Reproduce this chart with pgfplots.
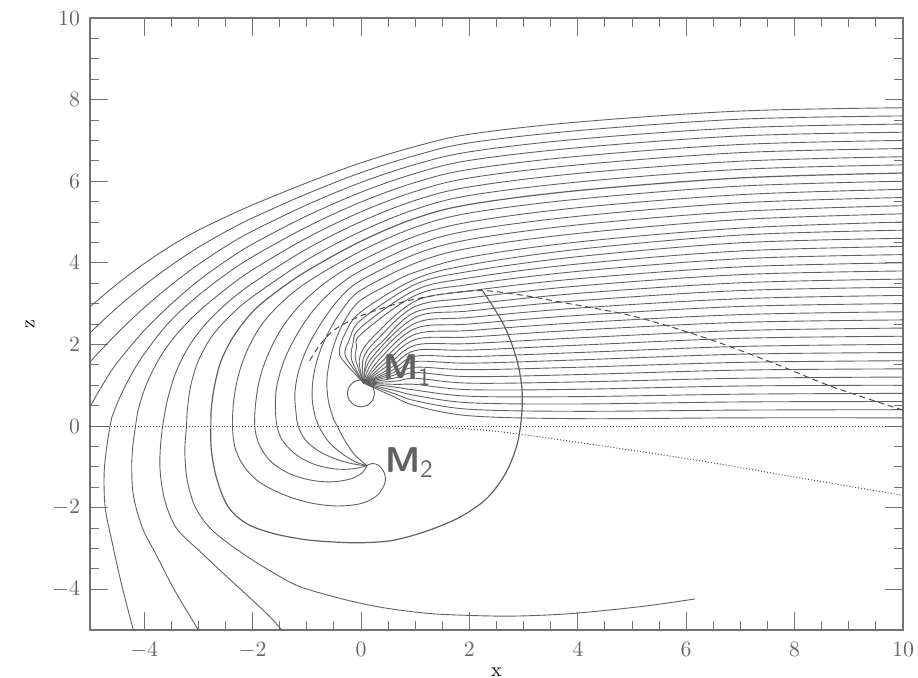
\documentclass[border=0pt]{standalone}
\usepackage{pgfplots}
\pgfplotsset{compat=1.18}
\pgfplotsset{fl/.style={smooth, tension=0.55, line width=0.45pt, color=black!62, mark=none}}
\begin{document}
\begin{tikzpicture}
\begin{axis}[
 width=406.5bp, height=306bp, scale only axis,
 xmin=-5, xmax=10, ymin=-5, ymax=10,
 xtick={-4,-2,...,10}, ytick={-4,-2,...,10},
 minor x tick num=3, minor y tick num=3,
 tick align=inside,
 major tick length=9bp, minor tick length=4.5bp,
 axis line style={black!55, line width=0.6pt},
 every tick/.style={black!55, line width=0.5pt},
 tick label style={font=\fontsize{11}{13}\selectfont, text=black!60},
 xticklabel style={yshift=-2.5bp},
 yticklabel style={xshift=-1.5bp},
 xlabel={x}, ylabel={z},
 label style={font=\fontsize{11}{13}\selectfont, text=black!60},
 every axis x label/.style={at={(axis description cs:0.5,0)}, anchor=center, yshift=-21bp},
 every axis y label/.style={at={(axis description cs:0,0.5)}, anchor=center, xshift=-30bp, rotate=90},
]
\coordinate (sw) at (rel axis cs:0,0);
\coordinate (ne) at (rel axis cs:1,1);
% ---- outer field lines
\addplot[fl] coordinates {(10,7.80) (7,7.72) (4,7.45) (2,7.15) (1,6.85) (0,6.45) (-1,5.96) (-2,5.42) (-2.5,5.12) (-3,4.80) (-3.5,4.42) (-4,3.98) (-4.5,3.48) (-5,2.92) (-5.4,2.45)};
\addplot[fl] coordinates {(10,7.60) (7,7.52) (4,7.24) (2,6.94) (1,6.63) (0,6.21) (-1,5.69) (-2,5.10) (-2.5,4.76) (-3,4.38) (-3.5,3.94) (-4,3.45) (-4.5,2.90) (-5,2.28) (-5.4,1.7)};
\addplot[fl] coordinates {(10,7.40) (7,7.31) (4,7.03) (2,6.72) (1,6.41) (0,5.97) (-1,5.42) (-2,4.78) (-2.5,4.40) (-3,3.96) (-3.5,3.46) (-4,2.90) (-4.5,2.27) (-5,1.57) (-5.3,1.1)};
\addplot[fl] coordinates {(10,7.20) (7,7.11) (4,6.82) (2,6.51) (1,6.19) (0,5.73) (-1,5.15) (-2,4.46) (-2.5,4.04) (-3,3.56) (-3.5,2.99) (-4,2.34) (-4.5,1.55) (-4.75,1.05) (-5,0.47) (-5.2,-0.05)};
\addplot[fl] coordinates {(10,7.00) (7,6.90) (4,6.61) (2,6.29) (1,5.97) (0,5.49) (-1,4.88) (-2,4.15) (-2.5,3.71) (-3,3.20) (-3.5,2.60) (-3.9,1.95) (-4.2,1.35) (-4.45,0.70) (-4.6,0.2) (-4.63,0) (-4.7,-0.6) (-4.74,-1.2) (-4.72,-2.0) (-4.6,-2.8) (-4.45,-3.7) (-4.3,-4.5) (-4.2,-5.0) (-4.15,-5.3)};
\addplot[fl] coordinates {(10,6.80) (7,6.70) (4,6.40) (2,6.08) (1,5.75) (0,5.25) (-1,4.61) (-2,3.83) (-2.5,3.35) (-3,2.80) (-3.4,2.25) (-3.7,1.70) (-3.95,1.05) (-4.1,0.45) (-4.16,0) (-4.21,-0.5) (-4.23,-1.0) (-4.21,-1.6) (-4.13,-2.1) (-4.0,-2.6) (-3.8,-3.1) (-3.45,-4.0) (-3.0,-5.0) (-2.85,-5.3)};
\addplot[fl] coordinates {(10,6.60) (7,6.49) (4,6.19) (2,5.86) (1,5.53) (0,5.01) (-1,4.34) (-2,3.50) (-2.5,2.98) (-2.9,2.45) (-3.2,1.90) (-3.42,1.30) (-3.56,0.70) (-3.63,0.25) (-3.66,0) (-3.7,-0.5) (-3.71,-1.0) (-3.67,-1.5) (-3.58,-2.0) (-3.38,-2.55) (-2.95,-3.1) (-2.55,-3.6) (-2.1,-4.15) (-1.7,-4.65) (-1.46,-5.0) (-1.25,-5.3)};
\addplot[fl] coordinates {(10,6.40) (7,6.29) (4,5.98) (2,5.65) (1,5.31) (0,4.77) (-1,4.07) (-2,3.17) (-2.4,2.72) (-2.75,2.20) (-3.0,1.60) (-3.14,1.00) (-3.2,0.45) (-3.22,0) (-3.25,-0.6) (-3.21,-1.3) (-3.06,-1.98) (-2.75,-2.55) (-2.2,-3.11) (-1.7,-3.53) (-1.16,-3.92) (-0.4,-4.22) (0.31,-4.43) (1.0,-4.56) (1.55,-4.62) (2.56,-4.66) (3.3,-4.64) (4.04,-4.58) (5.2,-4.42) (6.16,-4.24)};
\addplot[fl, line width=0.6pt] coordinates {(10,6.20) (7,6.08) (4,5.77) (2,5.43) (1,5.09) (0,4.53) (-1,3.80) (-1.6,3.25) (-2.0,2.80) (-2.35,2.20) (-2.58,1.60) (-2.7,1.00) (-2.76,0.45) (-2.77,0) (-2.76,-0.6) (-2.66,-1.3) (-2.45,-1.98) (-2.1,-2.4) (-1.6,-2.64) (-1.0,-2.79) (-0.4,-2.85) (0.05,-2.86) (0.6,-2.8) (1.2,-2.58) (1.8,-2.25) (2.3,-1.8) (2.65,-1.2) (2.87,-0.5) (2.96,0.2) (2.97,0.9) (2.88,1.6) (2.68,2.35) (2.45,2.9) (2.25,3.3)};
\addplot[fl] coordinates {(10,6.00) (7,5.88) (4,5.56) (2,5.22) (1,4.87) (0,4.29) (-1,3.52) (-1.5,2.98) (-1.85,2.45) (-2.1,1.85) (-2.26,1.25) (-2.35,0.6) (-2.37,0) (-2.33,-0.5) (-2.18,-0.95) (-1.9,-1.35) (-1.45,-1.67) (-0.95,-1.88) (-0.45,-1.96) (0.0,-1.9) (0.3,-1.7) (0.44,-1.4) (0.43,-1.15) (0.32,-0.96) (0.2,-0.92) (0.11,-0.97)};
\addplot[fl] coordinates {(10,5.80) (7,5.67) (4,5.35) (2,5.00) (1,4.65) (0,4.05) (-0.6,3.57) (-1.1,3.0) (-1.45,2.42) (-1.7,1.8) (-1.86,1.2) (-1.94,0.6) (-1.96,0) (-1.88,-0.45) (-1.68,-0.85) (-1.35,-1.15) (-0.95,-1.32) (-0.55,-1.37) (-0.2,-1.3) (0.02,-1.15) (0.11,-0.97)};
\addplot[fl] coordinates {(10,5.60) (7,5.47) (4,5.14) (2,4.79) (1,4.43) (0,3.81) (-0.5,3.35) (-0.9,2.8) (-1.2,2.2) (-1.42,1.6) (-1.55,1.0) (-1.58,0.5) (-1.55,0) (-1.45,-0.35) (-1.22,-0.68) (-0.9,-0.92) (-0.5,-1.05) (-0.15,-1.05) (0.11,-0.97)};
\addplot[fl] coordinates {(10,5.40) (7,5.26) (4,4.93) (2,4.57) (1,4.21) (0,3.57) (-0.4,3.12) (-0.72,2.55) (-0.98,1.95) (-1.15,1.35) (-1.22,0.8) (-1.2,0.35) (-1.16,0) (-1.02,-0.35) (-0.75,-0.64) (-0.4,-0.84) (-0.1,-0.94) (0.11,-0.97)};
\addplot[fl] coordinates {(10,5.20) (7,5.06) (4,4.72) (2,4.36) (1,3.99) (0,3.33) (-0.33,2.88) (-0.58,2.35) (-0.77,1.78) (-0.88,1.2) (-0.9,0.65) (-0.84,0.2) (-0.78,0) (-0.62,-0.35) (-0.38,-0.65) (-0.1,-0.88) (0.11,-0.97)};
\addplot[fl] coordinates {(10,5.00) (7,4.85) (4,4.51) (2,4.14) (1,3.77) (0.5,3.46) (0,3.09) (-0.25,2.7) (-0.44,2.2) (-0.57,1.65) (-0.63,1.1) (-0.6,0.6) (-0.5,0.15) (-0.44,0) (-0.3,-0.35) (-0.12,-0.7) (0.11,-0.97)};
% ---- lines converging on M1
\addplot[fl] coordinates {(10,4.8) (7,4.68) (4,4.33) (2,3.95) (1,3.60) (0,2.8) (-0.3,2.25) (-0.4,1.8) (-0.29,1.54) (0.05,1.05)};
\addplot[fl] coordinates {(10,4.6) (7,4.49) (4,4.15) (2,3.79) (1,3.47) (0,2.6) (-0.22,2.1) (-0.3,1.8) (-0.23,1.58) (0.05,1.05)};
\addplot[fl] coordinates {(10,4.4) (7,4.29) (4,3.97) (2,3.63) (1,3.33) (0,2.42) (-0.15,2.0) (-0.17,1.61) (0.05,1.05)};
\addplot[fl] coordinates {(10,4.2) (7,4.10) (4,3.79) (2,3.47) (1,3.20) (0,2.25) (-0.08,1.92) (-0.10,1.63) (0.05,1.05)};
\addplot[fl] coordinates {(10,4.0) (7,3.90) (4,3.61) (2,3.31) (1,3.06) (0.2,2.15) (-0.03,1.64) (0.05,1.05)};
\addplot[fl] coordinates {(10,3.8) (7,3.71) (4,3.43) (2,3.14) (1,2.93) (0.3,2.12) (0.04,1.65) (0.05,1.05)};
\addplot[fl] coordinates {(10,3.6) (7,3.51) (4,3.25) (2,2.98) (1,2.79) (0.4,2.08) (0.11,1.65) (0.05,1.05)};
\addplot[fl] coordinates {(10,3.4) (7,3.32) (4,3.07) (2,2.82) (1,2.66) (0.18,1.64) (0.05,1.05)};
\addplot[fl] coordinates {(10,3.2) (7,3.12) (4,2.89) (2,2.66) (1,2.52) (0.24,1.62) (0.05,1.05)};
\addplot[fl] coordinates {(10,3.0) (7,2.93) (4,2.71) (2,2.50) (1,2.39) (0.31,1.59) (0.05,1.05)};
\addplot[fl] coordinates {(10,2.8) (7,2.73) (4,2.53) (2,2.34) (1,2.25) (0.37,1.56) (0.05,1.05)};
\addplot[fl] coordinates {(10,2.6) (7,2.54) (4,2.35) (2,2.18) (1,2.12) (0.43,1.52) (0.05,1.05)};
\addplot[fl] coordinates {(10,2.4) (7,2.34) (4,2.16) (2,2.02) (1,1.98) (0.48,1.47) (0.05,1.05)};
\addplot[fl] coordinates {(10,2.2) (7,2.15) (4,1.98) (2,1.86) (1,1.85) (0.53,1.41) (0.05,1.05)};
\addplot[fl] coordinates {(10,2.0) (7,1.95) (4,1.80) (2,1.70) (1,1.71) (0.57,1.36) (0.05,1.05)};
\addplot[fl] coordinates {(10,1.8) (7,1.76) (4,1.62) (2,1.54) (1,1.58) (0.60,1.31) (0.05,1.05)};
\addplot[fl] coordinates {(10,1.6) (7,1.56) (4,1.44) (2,1.38) (1,1.44) (0.62,1.25) (0.05,1.05)};
\addplot[fl] coordinates {(10,1.4) (7,1.37) (4,1.26) (2,1.21) (1,1.31) (0.64,1.18) (0.05,1.05)};
\addplot[fl] coordinates {(10,1.2) (7,1.17) (4,1.08) (2,1.05) (1,1.17) (0.65,1.10) (0.05,1.05)};
\addplot[fl] coordinates {(10,1.0) (7,0.98) (4,0.90) (2,0.89) (1,1.02) (0.65,1.02) (0.05,1.05)};
\addplot[fl] coordinates {(10,0.8) (7,0.78) (4,0.72) (2,0.73) (1,0.88) (0.64,0.95) (0.05,1.05)};
\addplot[fl] coordinates {(10,0.6) (7,0.59) (4,0.54) (2,0.57) (1,0.75) (0.62,0.87) (0.05,1.05)};
\addplot[fl] coordinates {(10,0.4) (7,0.39) (4,0.36) (2,0.41) (1,0.62) (0.60,0.80) (0.05,1.05)};
\addplot[fl] coordinates {(10,0.2) (7,0.20) (4,0.18) (2,0.25) (1,0.50) (0.57,0.74) (0.05,1.05)};
% ---- M1 body
\addplot[smooth, line width=0.45pt, color=black!65] coordinates {(0.25,0.80) (0.217,0.965) (0.125,1.085) (0,1.13) (-0.125,1.085) (-0.217,0.965) (-0.25,0.80) (-0.217,0.635) (-0.125,0.515) (0,0.47) (0.125,0.515) (0.217,0.635) (0.25,0.80)};
% ---- axis line z=0, lower boundary, shock
\addplot[densely dotted, line width=0.5pt, color=black!70] coordinates {(-5,0) (10,0)};
\addplot[smooth, densely dotted, line width=0.5pt, color=black!70] coordinates {(0.6,0.0) (1.5,-0.04) (2.56,-0.14) (4,-0.4) (6.25,-0.85) (8,-1.25) (10,-1.7)};
\addplot[smooth, densely dashed, line width=0.5pt, color=black!70] coordinates {(-0.95,1.6) (-0.75,2.0) (-0.5,2.35) (0,2.7) (0.8,3.05) (1.6,3.25) (2.25,3.32) (3.0,3.2) (3.67,3.04) (5,2.7) (6.31,2.18) (7.5,1.6) (8.7,0.96) (10,0.39)};
% ---- labels
\node[anchor=base west, inner sep=0pt, text=black!62, font=\fontsize{18}{18}\selectfont] at (axis cs:0.4,1.13) {\textsf{\textbf{M}}\textsubscript{\textsf{1}}};
\node[anchor=base west, inner sep=0pt, text=black!62, font=\fontsize{18}{18}\selectfont] at (axis cs:0.44,-1.13) {\textsf{\textbf{M}}\textsubscript{\textsf{2}}};
\end{axis}
\pgfresetboundingbox
\path[use as bounding box] ([shift={(-45bp,-24bp)}]sw) rectangle ([shift={(7.5bp,9bp)}]ne);
\end{tikzpicture}
\end{document}
